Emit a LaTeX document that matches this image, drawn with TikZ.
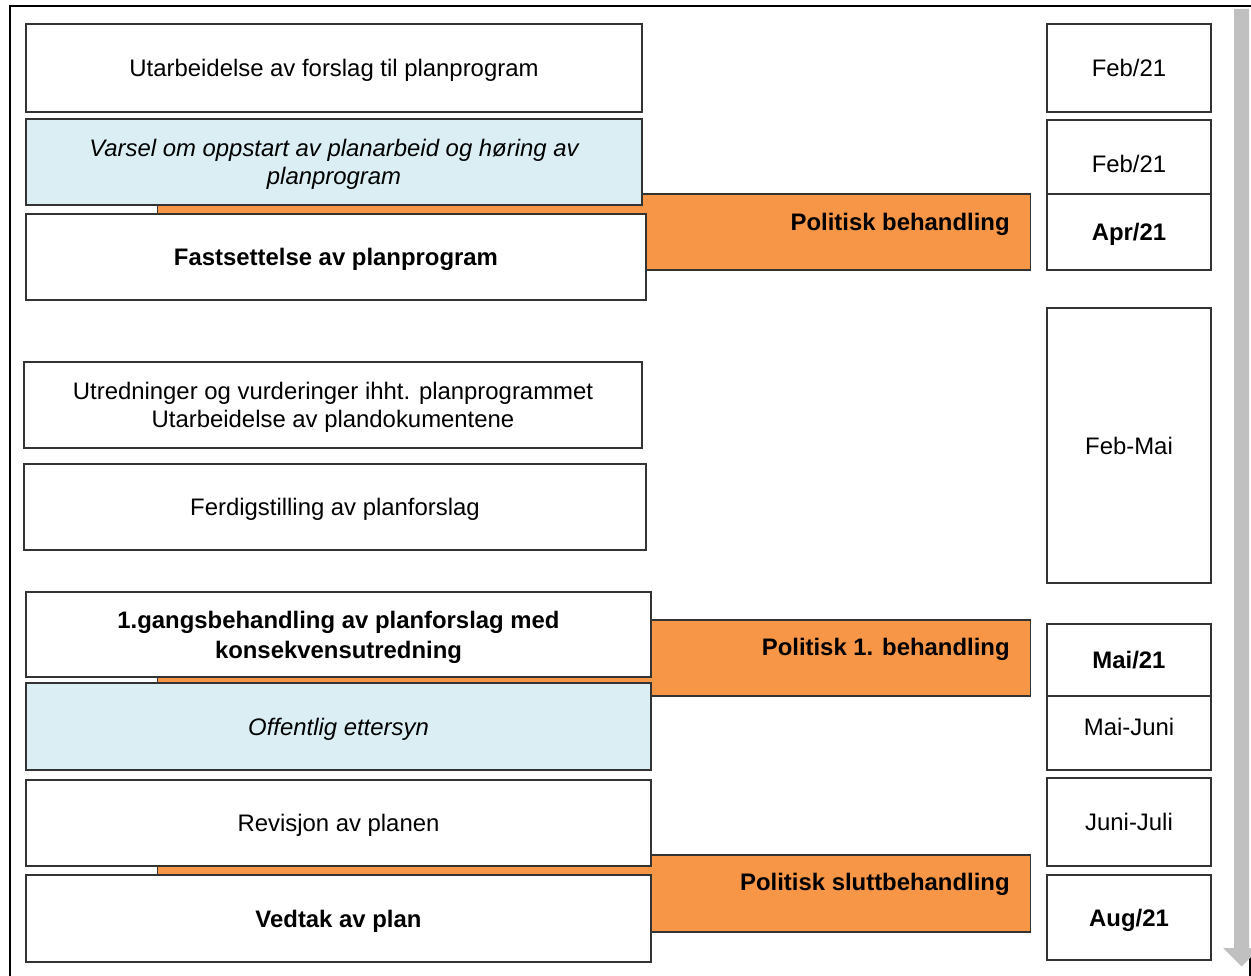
\documentclass[tikz,border=0pt]{standalone}
\usepackage{fontspec}
\setmainfont{Liberation Sans}
\definecolor{orangebar}{HTML}{F79646}
\definecolor{lightblue}{HTML}{DAEEF3}
\definecolor{arrowgrey}{HTML}{C0C0C0}
\definecolor{edge}{HTML}{333333}
\begin{document}
\begin{tikzpicture}[x=0.02cm,y=-0.02cm,
  every node/.style={font=\fontsize{13.6}{15.9}\selectfont},
  lbox/.style={draw=edge, line width=0.8pt, fill=white, align=center, inner sep=0pt, text depth=0pt},
  bluebox/.style={lbox, fill=lightblue, font=\fontsize{13.6}{15.9}\selectfont\itshape},
  rbox/.style={lbox, minimum width=3.28cm},
  obox/.style={draw=edge, line width=0.6pt, fill=orangebar, inner sep=0pt, minimum width=17.48cm},
  otext/.style={anchor=east, inner sep=0pt, font=\fontsize{13.6}{15.9}\selectfont\bfseries}
]
\useasboundingbox (0,0) rectangle (1251,976);
\clip (0,0) rectangle (1251,976);
% outer frame
\draw[line width=1.1pt] (10,995) -- (10,6) -- (1251,6);
\draw[line width=1.1pt] (1250,955) -- (1250,995);

% orange bars
\node[obox, minimum height=1.52cm] (O1) at (594,232) {};
\node[obox, minimum height=1.52cm] (O2) at (594,658) {};
\node[obox, minimum height=1.54cm] (O3) at (594,893.5) {};
\node[otext] (T1) at (1010,224) {Politisk behandling};
\node[otext] (T2) at (1010,649) {Politisk 1. behandling};
\node[otext] (T3) at (1010,884) {Politisk sluttbehandling};

% left column
\node[lbox, minimum width=12.32cm, minimum height=1.76cm] (L1) at (334,68) {Utarbeidelse av forslag til planprogram};
\node[bluebox, minimum width=12.32cm, minimum height=1.72cm] (L2) at (334,162) {Varsel om oppstart av planarbeid og høring av\\planprogram};
\node[lbox, minimum width=12.40cm, minimum height=1.72cm, font=\fontsize{13.6}{15.9}\selectfont\bfseries] (L3) at (336,257) {Fastsettelse av planprogram};
\node[lbox, minimum width=12.36cm, minimum height=1.72cm] (L4) at (333,405) {Utredninger og vurderinger ihht. planprogrammet\\Utarbeidelse av plandokumentene};
\node[lbox, minimum width=12.44cm, minimum height=1.72cm] (L5) at (335,507) {Ferdigstilling av planforslag};
\node[lbox, minimum width=12.50cm, minimum height=1.70cm, font=\fontsize{13.6}{17}\selectfont\bfseries] (L6) at (338.5,634.5) {1.gangsbehandling av planforslag med\\konsekvensutredning};
\node[bluebox, minimum width=12.50cm, minimum height=1.74cm] (L7) at (338.5,726.5) {Offentlig ettersyn};
\node[lbox, minimum width=12.50cm, minimum height=1.72cm] (L8) at (338.5,823) {Revisjon av planen};
\node[lbox, minimum width=12.50cm, minimum height=1.74cm, font=\fontsize{13.6}{15.9}\selectfont\bfseries] (L9) at (338.5,918.5) {Vedtak av plan};

% right column
\node[rbox, minimum height=1.76cm] (R1) at (1129,68) {Feb/21};
\node[rbox, minimum height=1.74cm] (R2) at (1129,163.5) {Feb/21};
\node[rbox, minimum height=1.52cm, font=\fontsize{13.6}{15.9}\selectfont\bfseries] (R3) at (1129,232) {Apr/21};
\node[rbox, minimum height=5.50cm] (R4) at (1129,445.5) {Feb-Mai};
\node[rbox, minimum height=1.74cm] (R6) at (1129,726.5) {Mai-Juni};
\node[rbox, minimum height=1.44cm, font=\fontsize{13.6}{15.9}\selectfont\bfseries] (R5) at (1129,660) {Mai/21};
\node[rbox, minimum height=1.76cm] (R7) at (1129,822) {Juni-Juli};
\node[rbox, minimum height=1.70cm, font=\fontsize{13.6}{15.9}\selectfont\bfseries] (R8) at (1129,917.5) {Aug/21};

% grey time arrow
\fill[arrowgrey] (1234,9) -- (1249,9) -- (1249,948) -- (1260,948) -- (1241.5,966.5) -- (1223,948) -- (1234,948) -- cycle;
\end{tikzpicture}
\end{document}
